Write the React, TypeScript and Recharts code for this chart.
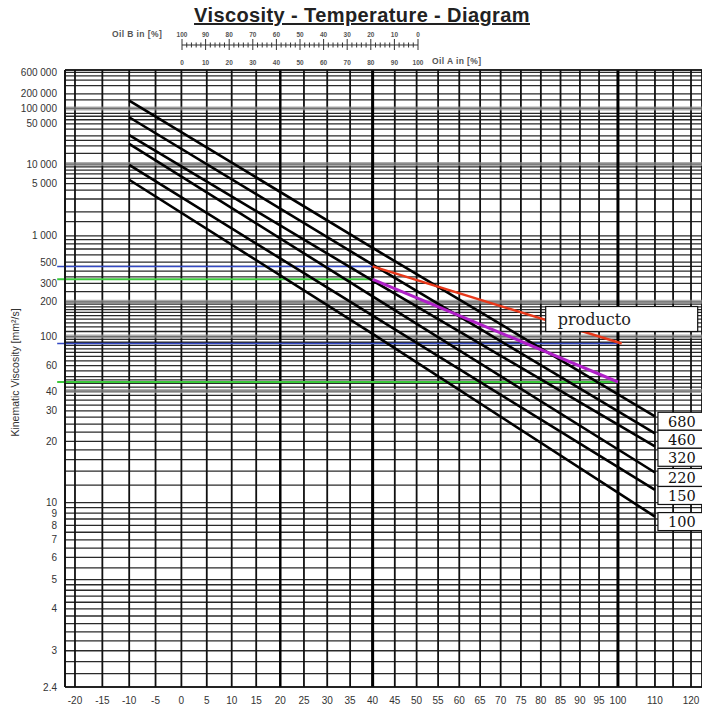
import React from 'react'
import {
  LineChart,
  Line,
  XAxis,
  YAxis,
  CartesianGrid,
  ReferenceLine,
  LabelList,
} from 'recharts'

const SANS = '"Liberation Sans", Arial, sans-serif'
const SERIF = '"DejaVu Serif", serif'

// ISO VG lines: temperature [°C] and kinematic viscosity [mm²/s]
const GRADE_TEMPS = [-10, 40, 110]
const GRADE_NAMES = ['680', '460', '320', '220', '150', '100']
const VG680 = [144000, 720, 27.8]
const VG460 = [67000, 470, 22.1]
const VG320 = [31000, 320, 18.8]
const VG220 = [21700, 225, 13.8]
const VG150 = [9700, 150, 11.4]
const VG100 = [5700, 105, 8.7]

// product line (red) and the purple comparison line
const PRODUCT_TEMPS = [40, 101]
const PRODUCT = [450, 88]
const PURPLE_TEMPS = [40, 100]
const PURPLE = [330, 46]

// horizontal marker lines: viscosity and the temperature they run to
const BLUE_MARKS = [450, 88]
const BLUE_TO = [40, 100]
const GREEN_MARKS = [330, 46]
const GREEN_TO = [40, 100]
const MARK_FROM = -23.2

// axis ranges
const T_MIN = -21.8
const T_MAX = 123.1
const V_MIN = 2.4
const V_MAX = 680000

// temperature grid / labels
const TEMP_GRID = [-20, -15, -10, -5, 0, 5, 10, 15, 20, 25, 30, 35, 40, 45, 50, 55, 60, 65, 70, 75, 80, 85, 90, 95, 100, 105, 110, 115, 120]
const TEMP_LABELS = [-20, -15, -10, -5, 0, 5, 10, 15, 20, 25, 30, 35, 40, 45, 50, 55, 60, 65, 70, 75, 80, 85, 90, 95, 100, 110, 120]
const TEMP_BOLD = [40, 100]
const TEMP_SEMIBOLD = [20]

// viscosity grid / labels
const V_GRID = [
  2.4, 2.6, 2.8, 3, 3.2, 3.4, 3.6, 3.8, 4, 4.2, 4.4, 4.6, 4.8, 5, 5.5, 6, 6.5, 7, 7.5, 8, 8.5, 9, 9.5,
  10, 12, 14, 16, 18, 20, 22.5, 25, 27.5, 30, 32.5, 35, 37.5, 40, 42.5, 45, 47.5, 50, 55, 60, 65, 70, 75,
  80, 85, 90, 95, 100, 110, 120, 130, 140, 150, 160, 170, 180, 190, 200, 250, 300, 350, 400, 450, 500,
  600, 700, 800, 900, 1000, 1500, 2000, 3000, 4000, 5000, 6000, 7000, 8000, 9000, 10000, 15000, 20000,
  25000, 30000, 40000, 50000, 60000, 70000, 80000, 100000, 150000, 200000, 300000, 400000, 500000, 600000,
]
const V_LABELS = [600000, 200000, 100000, 50000, 10000, 5000, 1000, 500, 300, 200, 100, 60, 40, 30, 20, 10, 9, 8, 7, 6, 5, 4, 3, 2.4]
const V_BANDS = [100000, 10000, 200, 100, 40]

// mixing ruler: oil A in %
const MIX_A = [
  0, 2, 4, 6, 8, 10, 12, 14, 16, 18, 20, 22, 24, 26, 28, 30, 32, 34, 36, 38, 40, 42, 44, 46, 48, 50,
  52, 54, 56, 58, 60, 62, 64, 66, 68, 70, 72, 74, 76, 78, 80, 82, 84, 86, 88, 90, 92, 94, 96, 98, 100,
]

// chart geometry
const W = 702
const H = 706
const TOP = 70
const X_AXIS_H = 19
const Y_AXIS_W = 65

// Ubbelohde coordinates
const lt = (t: number) => Math.log10(t + 273.15)
const lv = (v: number) => Math.log10(Math.log10(v + 0.7))

const toPoints = (temps: number[], vals: number[]) =>
  temps.map((t, i) => ({ x: lt(t), y: lv(vals[i]) }))

const grades = [VG680, VG460, VG320, VG220, VG150, VG100].map((vals, i) => ({
  name: GRADE_NAMES[i],
  data: toPoints(GRADE_TEMPS, vals),
}))

// grade labels sit just below each line end, stacked so the boxes never collide
const PX_PER_W = (H - TOP - X_AXIS_H) / (lv(V_MAX) - lv(V_MIN))
const LABEL_STEP = 18
const endPx = grades.map((g) => -g.data[g.data.length - 1].y * PX_PER_W)
const labelOffsets: number[] = []
endPx.forEach((e, i) => {
  if (i === 0) {
    labelOffsets.push(5)
    return
  }
  const prevCentre = endPx[i - 1] + labelOffsets[i - 1]
  labelOffsets.push(Math.max(5, prevCentre + LABEL_STEP - e))
})

const fmtV = (v: number) =>
  v >= 1000 ? String(v).replace(/\B(?=(\d{3})+(?!\d))/g, ' ') : String(v)

function TempTick(props: any) {
  const { x, y, payload } = props
  const t = Math.round(Math.pow(10, payload.value) - 273.15)
  if (!TEMP_LABELS.includes(t)) return <g />
  return (
    <text x={x} y={y + 17} textAnchor="middle" fontSize={10} fontFamily={SANS} fill="#333">
      {t}
    </text>
  )
}

function ViscTick(props: any) {
  const { x, y, payload } = props
  const v = Math.pow(10, Math.pow(10, payload.value)) - 0.7
  const hit = V_LABELS.find((l) => Math.abs(v - l) / l < 1e-6)
  if (hit === undefined) return <g />
  return (
    <text x={x} y={y + 3.5} textAnchor="end" fontSize={10} fontFamily={SANS} fill="#333">
      {fmtV(hit)}
    </text>
  )
}

function yLabel(p: any) {
  const vb = p.viewBox || { x: 0, y: TOP, width: Y_AXIS_W, height: H - TOP - X_AXIS_H }
  const cx = vb.x + 19
  const cy = vb.y + vb.height / 2 - 6
  return (
    <text
      transform={`translate(${cx},${cy}) rotate(-90)`}
      textAnchor="middle"
      fontSize={10.5}
      fontFamily={SANS}
      fill="#333"
    >
      Kinematic Viscosity [mm²/s]
    </text>
  )
}

const gradeLabel = (name: string, last: number, offset: number) => (p: any) => {
  if (p.index !== last) return <g />
  const x = p.x ?? p.viewBox?.x
  const y = p.y ?? p.viewBox?.y
  const c = y + offset
  return (
    <g>
      <rect x={x + 3} y={c - 9} width={60} height={18} fill="#fff" stroke="#111" strokeWidth={1.2} />
      <text x={x + 13} y={c + 5.3} fontFamily={SERIF} fontSize={14.5} fill="#111">
        {name}
      </text>
    </g>
  )
}

const productLabel = (last: number) => (p: any) => {
  if (p.index !== last) return <g />
  const x = p.x ?? p.viewBox?.x
  const y = p.y ?? p.viewBox?.y
  return (
    <g>
      <rect x={x - 76} y={y - 37} width={152} height={25} fill="#fff" stroke="#111" strokeWidth={1.2} />
      <text x={x - 64} y={y - 19} fontFamily={SERIF} fontSize={16} fill="#222">
        producto
      </text>
    </g>
  )
}

function MixTick(props: any) {
  const { x, y, payload } = props
  const a = payload.value
  const major = a % 10 === 0
  return (
    <g>
      <line x1={x} x2={x} y1={y - (major ? 6 : 2.5)} y2={y + (major ? 5 : 2.5)} stroke="#333" strokeWidth={1} />
      {major && (
        <text x={x} y={y - 8.5} textAnchor="middle" fontSize={6.5} fontFamily={SANS} fontWeight="bold" fill="#555">
          {100 - a}
        </text>
      )}
      {major && (
        <text x={x} y={y + 19.5} textAnchor="middle" fontSize={6.5} fontFamily={SANS} fontWeight="bold" fill="#555">
          {a}
        </text>
      )}
    </g>
  )
}

function MixScale() {
  return (
    <LineChart
      width={262}
      height={52}
      data={MIX_A.map((a) => ({ a }))}
      margin={{ top: 26, right: 14, bottom: 0, left: 12 }}
    >
      <XAxis
        dataKey="a"
        type="number"
        domain={[0, 100]}
        ticks={MIX_A}
        interval={0}
        tick={<MixTick />}
        tickLine={false}
        tickSize={0}
        tickMargin={0}
        height={25}
        axisLine={{ stroke: '#333', strokeWidth: 1.2 }}
      />
      <YAxis hide domain={[0, 1]} />
    </LineChart>
  )
}

export default function App() {
  return (
    <div
      style={{
        position: 'absolute',
        left: 0,
        top: 0,
        width: W,
        height: H,
        overflow: 'hidden',
        background: '#fff',
      }}
    >
      <LineChart width={W} height={H} margin={{ top: TOP, right: 0, bottom: 0, left: 0 }}>
        <CartesianGrid vertical={false} stroke="#2a2a2a" strokeWidth={1.3} />
        <CartesianGrid horizontal={false} stroke="#111" strokeWidth={1.8} />
        {V_BANDS.map((v) => (
          <ReferenceLine key={'band' + v} y={lv(v)} stroke="#8a8a8a" strokeWidth={4} strokeOpacity={0.7} />
        ))}
        {TEMP_SEMIBOLD.map((t) => (
          <ReferenceLine key={'semi' + t} x={lt(t)} stroke="#000" strokeWidth={2.3} />
        ))}
        {TEMP_BOLD.map((t) => (
          <ReferenceLine key={'bold' + t} x={lt(t)} stroke="#000" strokeWidth={3} />
        ))}
        <ReferenceLine y={lv(V_MAX)} stroke="#111" strokeWidth={1.5} ifOverflow="visible" />
        <XAxis
          dataKey="x"
          type="number"
          domain={[lt(T_MIN), lt(T_MAX)]}
          allowDataOverflow
          ticks={TEMP_GRID.map(lt)}
          interval={0}
          tick={<TempTick />}
          tickLine={false}
          tickSize={0}
          tickMargin={0}
          height={X_AXIS_H}
          axisLine={{ stroke: '#111', strokeWidth: 1.6 }}
        />
        <YAxis
          dataKey="y"
          type="number"
          domain={[lv(V_MIN), lv(V_MAX)]}
          allowDataOverflow
          ticks={V_GRID.map(lv)}
          interval={0}
          tick={<ViscTick />}
          tickLine={false}
          tickSize={0}
          tickMargin={8}
          width={Y_AXIS_W}
          axisLine={{ stroke: '#111', strokeWidth: 1.6 }}
          label={yLabel}
        />
        {BLUE_MARKS.map((v, i) => (
          <ReferenceLine
            key={'blue' + v}
            segment={[
              { x: lt(MARK_FROM), y: lv(v) },
              { x: lt(BLUE_TO[i]), y: lv(v) },
            ]}
            stroke="#3348c4"
            strokeWidth={1.5}
            ifOverflow="visible"
          />
        ))}
        {GREEN_MARKS.map((v, i) => (
          <ReferenceLine
            key={'green' + v}
            segment={[
              { x: lt(MARK_FROM), y: lv(v) },
              { x: lt(GREEN_TO[i]), y: lv(v) },
            ]}
            stroke="#3cc83c"
            strokeWidth={2}
            ifOverflow="visible"
          />
        ))}
        {grades.map((g, i) => (
          <Line
            key={g.name}
            data={g.data}
            dataKey="y"
            type="linear"
            stroke="#000"
            strokeWidth={2.6}
            dot={false}
            isAnimationActive={false}
          >
            <LabelList dataKey="y" content={gradeLabel(g.name, g.data.length - 1, labelOffsets[i])} />
          </Line>
        ))}
        <Line
          data={toPoints(PURPLE_TEMPS, PURPLE)}
          dataKey="y"
          type="linear"
          stroke="#b020c8"
          strokeWidth={3}
          dot={false}
          isAnimationActive={false}
        />
        <Line
          data={toPoints(PRODUCT_TEMPS, PRODUCT)}
          dataKey="y"
          type="linear"
          stroke="#e8381a"
          strokeWidth={2.4}
          dot={false}
          isAnimationActive={false}
        >
          <LabelList dataKey="y" content={productLabel(PRODUCT_TEMPS.length - 1)} />
        </Line>
      </LineChart>

      <div
        style={{
          position: 'absolute',
          left: 0,
          top: 5,
          width: 724,
          textAlign: 'center',
          fontFamily: SANS,
          fontWeight: 'bold',
          fontSize: 20,
          lineHeight: '20px',
          letterSpacing: 0.4,
          textDecoration: 'underline',
          color: '#222',
        }}
      >
        Viscosity - Temperature - Diagram
      </div>
      <div
        style={{
          position: 'absolute',
          left: 112,
          top: 29,
          fontFamily: SANS,
          fontWeight: 'bold',
          fontSize: 8.5,
          letterSpacing: 0.4,
          color: '#555',
        }}
      >
        Oil B in [%]
      </div>
      <div
        style={{
          position: 'absolute',
          left: 432,
          top: 56,
          fontFamily: SANS,
          fontWeight: 'bold',
          fontSize: 8.5,
          letterSpacing: 0.4,
          color: '#555',
        }}
      >
        Oil A in [%]
      </div>
      <div style={{ position: 'absolute', left: 170, top: 18 }}>
        <MixScale />
      </div>
    </div>
  )
}
